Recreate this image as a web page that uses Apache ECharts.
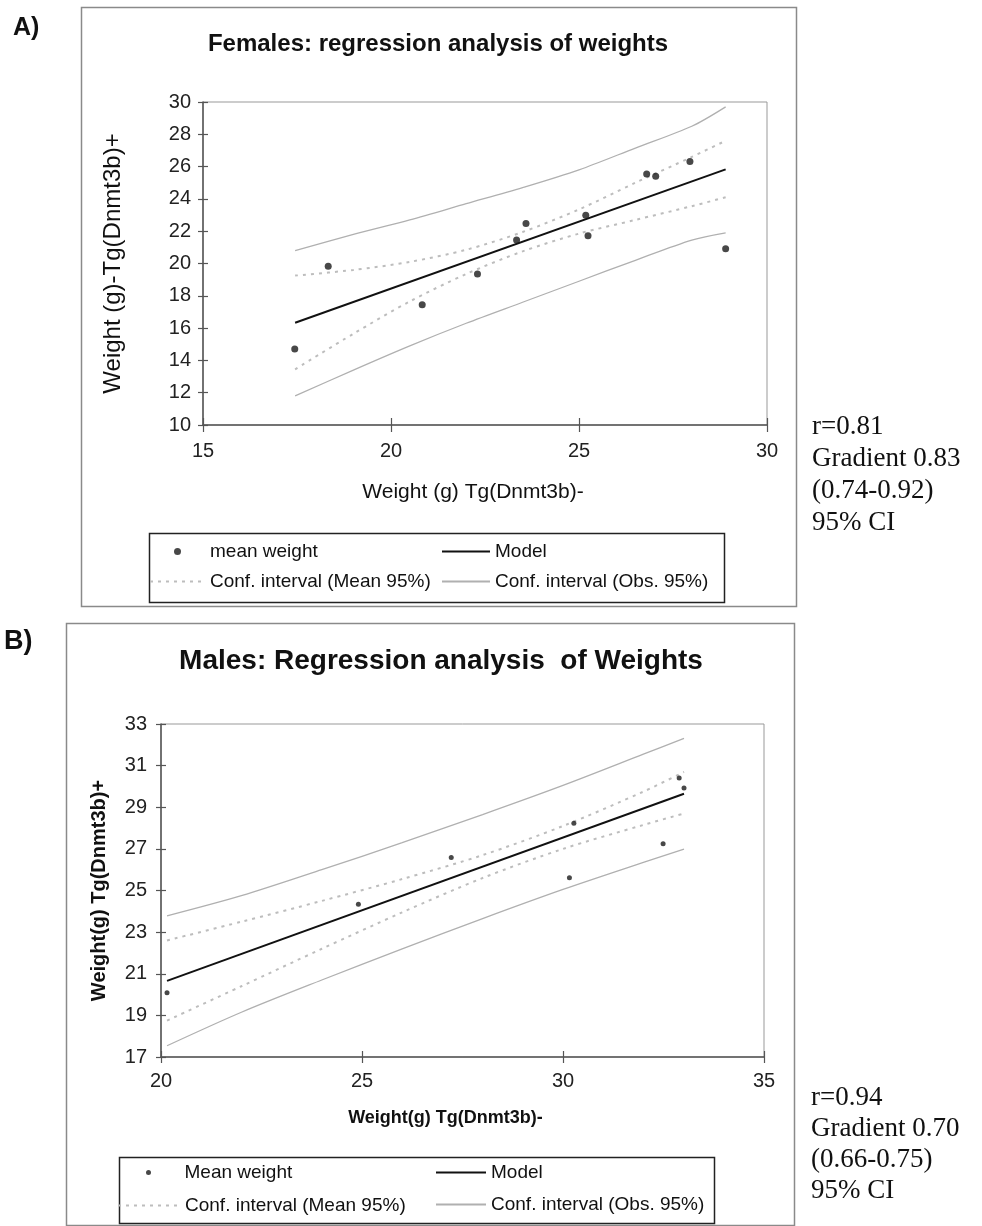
<!DOCTYPE html>
<html>
<head>
<meta charset="utf-8">
<script src="https://cdn.jsdelivr.net/npm/echarts@6/dist/echarts.min.js"></script>
<style>
html, body { margin: 0; padding: 0; background: #fff; }
#chart { width: 982px; height: 1226px; }
</style>
</head>
<body>
<div id="chart"></div>
<script>
// ---- A) Females: mean weights, Tg(Dnmt3b)- (x) vs Tg(Dnmt3b)+ (y) ----
const femaleNeg = [17.44, 18.33, 20.83, 22.30, 23.34, 23.59, 25.18, 25.24, 26.80, 27.04, 27.95, 28.90];
const femalePos = [14.71, 19.83, 17.45, 19.35, 21.45, 22.48, 22.98, 21.72, 25.54, 25.40, 26.31, 20.92];
const femaleModelX = [17.45, 28.9];
const femaleModelY = [16.33, 25.83];
const femaleBandX = [17.45, 19, 20.5, 22, 23.5, 25, 26.5, 28, 28.9];
const femaleMeanHi = [19.25, 19.6, 20.1, 20.85, 21.95, 23.35, 25.0, 26.6, 27.6];
const femaleMeanLo = [13.45, 15.65, 17.65, 19.35, 20.75, 21.85, 22.7, 23.55, 24.1];
const femaleObsHi = [20.8, 21.8, 22.7, 23.7, 24.7, 25.8, 27.15, 28.5, 29.7];
const femaleObsLo = [11.8, 13.4, 14.9, 16.3, 17.6, 18.9, 20.2, 21.45, 21.9];
const femaleXTicks = [15, 20, 25, 30];
const femaleYTicks = [10, 12, 14, 16, 18, 20, 22, 24, 26, 28, 30];
const femaleStats = ['r=0.81', 'Gradient 0.83', '(0.74-0.92)', '95% CI'];

// ---- B) Males ----
const maleNeg = [20.15, 24.91, 27.22, 30.16, 30.27, 32.49, 32.89, 33.01];
const malePos = [20.09, 24.34, 26.58, 25.61, 28.23, 27.25, 30.41, 29.92];
const maleModelX = [20.15, 33.01];
const maleModelY = [20.66, 29.65];
const maleBandX = [20.15, 22, 24, 26, 28, 30, 32, 33.01];
const maleMeanHi = [22.6, 23.5, 24.5, 25.55, 26.7, 28.1, 29.75, 30.7];
const maleMeanLo = [18.75, 20.4, 22.2, 23.95, 25.6, 27.0, 28.15, 28.7];
const maleObsHi = [23.78, 24.75, 26.0, 27.3, 28.65, 30.05, 31.55, 32.31];
const maleObsLo = [17.54, 19.15, 20.7, 22.2, 23.65, 25.05, 26.35, 26.99];
const maleXTicks = [20, 25, 30, 35];
const maleYTicks = [17, 19, 21, 23, 25, 27, 29, 31, 33];
const maleStats = ['r=0.94', 'Gradient 0.70', '(0.66-0.75)', '95% CI'];

const SANS = '"Liberation Sans", Arial, Helvetica, sans-serif';
const SERIF = '"Liberation Serif", "Times New Roman", serif';
const INK = '#1a1a1a';
const AXIS = '#555';

const pairs = (xs, ys) => xs.map((x, i) => [x, ys[i]]);
const range = ticks => ({ min: ticks[0], max: ticks[ticks.length - 1], interval: ticks[1] - ticks[0] });

// main axis with outside ticks + twin axis with inside ticks so tick marks cross the axis line
function axisPair(kind, gridIndex, ticks, cfg) {
  const r = range(ticks);
  const main = {
    type: 'value', gridIndex, min: r.min, max: r.max, interval: r.interval,
    position: kind === 'x' ? 'bottom' : 'left',
    axisLine: { lineStyle: { color: AXIS, width: 1.5 } },
    axisTick: { length: cfg.tick, lineStyle: { color: AXIS, width: 1.2 } },
    axisLabel: { fontSize: cfg.labelSize, color: '#222', fontFamily: SANS, margin: cfg.margin },
    splitLine: { show: false },
    nameLocation: 'middle', nameGap: cfg.nameGap, name: cfg.name,
    nameRotate: kind === 'y' ? 90 : 0,
    nameTextStyle: { fontSize: cfg.nameSize, fontWeight: cfg.nameWeight, color: '#111', fontFamily: SANS, padding: cfg.namePad || 0 }
  };
  const twin = {
    type: 'value', gridIndex, min: r.min, max: r.max, interval: r.interval,
    position: kind === 'x' ? 'bottom' : 'left', offset: 0,
    axisLine: { show: false },
    axisTick: { inside: true, length: cfg.tick, lineStyle: { color: AXIS, width: 1.2 } },
    axisLabel: { show: false }, splitLine: { show: false }
  };
  return [main, twin];
}

function panelSeries(gi, pointName, dotSize, xs, ys, mx, my, bx, mHi, mLo, oHi, oLo) {
  const ax = { xAxisIndex: gi * 2, yAxisIndex: gi * 2 };
  const meanStyle = { color: '#bdbdbd', width: 2, type: [3, 5] };
  const obsStyle = { color: '#b0b0b0', width: 1.3 };
  const band = (name, data, style) => Object.assign({
    type: 'line', name, data, symbol: 'none', smooth: 0.3, silent: true,
    lineStyle: style, itemStyle: { color: style.color }, z: 2
  }, ax);
  return [
    band('Conf. interval (Obs. 95%)', pairs(bx, oHi), obsStyle),
    band('Conf. interval (Obs. 95%)', pairs(bx, oLo), obsStyle),
    band('Conf. interval (Mean 95%)', pairs(bx, mHi), meanStyle),
    band('Conf. interval (Mean 95%)', pairs(bx, mLo), meanStyle),
    Object.assign({
      type: 'line', name: 'Model', data: pairs(mx, my), symbol: 'none',
      lineStyle: { color: '#111', width: 2 }, itemStyle: { color: '#111' }, z: 3
    }, ax),
    Object.assign({
      type: 'scatter', name: pointName, data: pairs(xs, ys), symbol: 'circle',
      symbolSize: dotSize, itemStyle: { color: INK }, z: 5
    }, ax)
  ];
}

const legendText = { fontSize: 19, color: '#111', fontFamily: SANS };
// legend entries for line series: show the line only, no marker
const lineLegend = { itemStyle: { opacity: 0 }, selectedMode: false, textStyle: legendText };

function statText(lines, x, y0, step) {
  return lines.map((t, i) => ({
    type: 'text', left: x, top: y0 + i * step,
    style: { text: t, font: '27px ' + SERIF, fill: '#111' }
  }));
}

const xa = axisPair('x', 0, femaleXTicks, { tick: 7, labelSize: 20, margin: 16, name: 'Weight (g) Tg(Dnmt3b)-', nameGap: 57, nameSize: 21, nameWeight: 'normal', namePad: [0, 24, 0, 0] });
const xb = axisPair('x', 1, maleXTicks, { tick: 6, labelSize: 20, margin: 14, name: 'Weight(g) Tg(Dnmt3b)-', nameGap: 52, nameSize: 18, nameWeight: 'bold', namePad: [0, 34, 0, 0] });
const ya = axisPair('y', 0, femaleYTicks, { tick: 5, labelSize: 20, margin: 12, name: 'Weight (g)-Tg(Dnmt3b)+', nameGap: 78, nameSize: 24, nameWeight: 'normal' });
const yb = axisPair('y', 1, maleYTicks, { tick: 5, labelSize: 20, margin: 14, name: 'Weight(g) Tg(Dnmt3b)+', nameGap: 52, nameSize: 20, nameWeight: 'bold' });

const option = {
  backgroundColor: '#fff',
  animation: false,
  title: [
    { text: 'Females: regression analysis of weights', left: 433, top: 27, textAlign: 'center',
      textStyle: { fontSize: 24, fontWeight: 'bold', color: '#111', fontFamily: SANS } },
    { text: 'Males: Regression analysis  of Weights', left: 436, top: 642, textAlign: 'center',
      textStyle: { fontSize: 28, fontWeight: 'bold', color: '#111', fontFamily: SANS } }
  ],
  grid: [
    { left: 203, top: 102, width: 564, height: 323, show: true, borderColor: '#999', borderWidth: 1, backgroundColor: 'transparent' },
    { left: 161, top: 724, width: 603, height: 333, show: true, borderColor: '#999', borderWidth: 1, backgroundColor: 'transparent' }
  ],
  xAxis: [xa[0], xa[1], xb[0], xb[1]],
  yAxis: [ya[0], ya[1], yb[0], yb[1]],
  legend: [
    { data: ['mean weight'], left: 169, top: 537, itemWidth: 55, itemHeight: 7, icon: 'circle', textStyle: legendText, selectedMode: false },
    Object.assign({ data: ['Conf. interval (Mean 95%)'], left: 144, top: 567, itemWidth: 55, itemHeight: 14 }, lineLegend),
    Object.assign({ data: ['Model', 'Conf. interval (Obs. 95%)'], left: 436, top: 537, orient: 'vertical', itemGap: 11, itemWidth: 48, itemHeight: 14 }, lineLegend),
    { data: ['Mean weight'], left: 141, top: 1158, itemWidth: 62, itemHeight: 5, icon: 'circle', textStyle: legendText, selectedMode: false },
    Object.assign({ data: ['Conf. interval (Mean 95%)'], left: 112, top: 1191, itemWidth: 62, itemHeight: 14 }, lineLegend),
    Object.assign({ data: ['Model', 'Conf. interval (Obs. 95%)'], left: 430, top: 1158, orient: 'vertical', itemGap: 13, itemWidth: 50, itemHeight: 14 }, lineLegend)
  ],
  graphic: [
    { type: 'rect', left: 79, top: 5, shape: { width: 715, height: 599 }, style: { fill: 'none', stroke: '#8a8a8a', lineWidth: 1.5 }, silent: true, z: -1 },
    { type: 'rect', left: 64, top: 621, shape: { width: 728, height: 602 }, style: { fill: 'none', stroke: '#8a8a8a', lineWidth: 1.5 }, silent: true, z: -1 },
    { type: 'rect', left: 147, top: 531, shape: { width: 575, height: 69 }, style: { fill: 'none', stroke: '#222', lineWidth: 1.5 }, silent: true },
    { type: 'rect', left: 117, top: 1155, shape: { width: 595, height: 66 }, style: { fill: 'none', stroke: '#222', lineWidth: 1.5 }, silent: true },
    { type: 'text', left: 13, top: 16, style: { text: 'A)', font: 'bold 25px ' + SANS, fill: '#111' } },
    { type: 'text', left: 4, top: 628, style: { text: 'B)', font: 'bold 27px ' + SANS, fill: '#111' } }
  ].concat(statText(femaleStats, 812, 413, 32), statText(maleStats, 811, 1084, 31)),
  series: [].concat(
    panelSeries(0, 'mean weight', 7, femaleNeg, femalePos, femaleModelX, femaleModelY, femaleBandX, femaleMeanHi, femaleMeanLo, femaleObsHi, femaleObsLo),
    panelSeries(1, 'Mean weight', 5, maleNeg, malePos, maleModelX, maleModelY, maleBandX, maleMeanHi, maleMeanLo, maleObsHi, maleObsLo)
  )
};

const chart = echarts.init(document.getElementById('chart'), null, { renderer: 'canvas' });
chart.setOption(option);
</script>
</body>
</html>
